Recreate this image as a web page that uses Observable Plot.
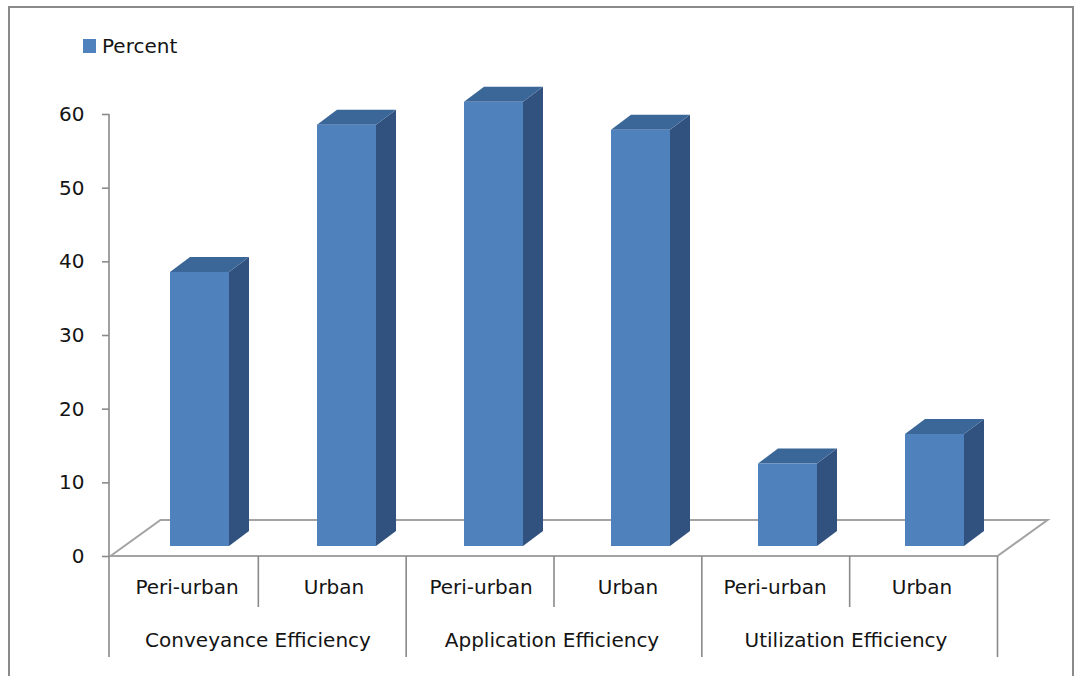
<!DOCTYPE html>
<html>
<head>
<meta charset="utf-8">
<script src="https://cdn.jsdelivr.net/npm/d3@7"></script>
<script src="https://cdn.jsdelivr.net/npm/@observablehq/plot@0.6"></script>
<style>
  html, body { margin: 0; padding: 0; background: #fff; }
  #wrap { position: relative; width: 1076px; height: 676px; overflow: hidden; font-family: "DejaVu Sans", sans-serif; }
  #frame { position: absolute; left: 8px; top: 6px; width: 1066px; height: 700px; border: 2px solid #8a8a8a; box-sizing: border-box; pointer-events: none; }
  #legend { position: absolute; left: 83px; top: 34px; display: flex; align-items: center; font-size: 20px; color: #141414; }
  #legend .swatch { width: 13px; height: 14px; background: #4f81bd; margin-right: 6px; }
  #chart svg { display: block; }
  g[aria-label="y-axis tick"] { stroke: #8a8a8a; stroke-width: 1.6; }
  g[aria-label="y-axis"] .tick line { stroke: #8a8a8a; stroke-width: 1.6; }
  g[aria-label="y-axis"] .domain { display: none; }
</style>
</head>
<body>
<div id="wrap">
  <div id="chart"></div>
  <div id="legend"><span class="swatch"></span><span>Percent</span></div>
  <div id="frame"></div>
</div>
<script>
// Efficiency groups, the two settings inside each, and the measured percentages
const groups = [
  "Conveyance Efficiency", "Conveyance Efficiency",
  "Application Efficiency", "Application Efficiency",
  "Utilization Efficiency", "Utilization Efficiency"
];
const settings = ["Peri-urban", "Urban", "Peri-urban", "Urban", "Peri-urban", "Urban"];
const percent = [37.2, 57.2, 60.3, 56.5, 11.2, 15.2];
const yTicks = [0, 10, 20, 30, 40, 50, 60];

const rows = groups.map((g, i) => ({
  key: `${g}|${settings[i]}`,
  group: g,
  setting: settings[i],
  percent: percent[i]
}));
const keys = rows.map(d => d.key);

// Pseudo-3D look: bars sit a little back on the floor and have depth
const BAR_SHIFT_X = 13, BAR_SHIFT_Y = -10;
const DEPTH_X = 20, DEPTH_Y = -15;
const FLOOR_X = 50, FLOOR_Y = -36;
const FRONT = "#4f81bd", TOP = "#3b6698", SIDE = "#31527f";
const LINE = "#a3a3a3";
const INK = "#141414";

// Floor parallelogram, value axis line and the two-level category box
function floorAndAxes(index, {x, y}) {
  const [x0, x1] = x.range();
  const base = y(0);
  const step = (x1 - x0) / keys.length;
  const g = d3.create("svg:g");
  g.append("path")
    .attr("d", `M${x0},${base}L${x0 + FLOOR_X},${base + FLOOR_Y}L${x1 + FLOOR_X},${base + FLOOR_Y}L${x1},${base}Z`)
    .attr("fill", "#fff").attr("stroke", LINE).attr("stroke-width", 2);
  // value axis line
  g.append("line")
    .attr("x1", x0 - 1.5).attr("x2", x0 - 1.5)
    .attr("y1", y(60)).attr("y2", base + 101)
    .attr("stroke", "#8a8a8a").attr("stroke-width", 1.6);
  // category separators: short between settings, long between groups
  for (let i = 1; i <= keys.length; ++i) {
    const xi = x0 + i * step;
    const long = i === keys.length || groups[i] !== groups[i - 1];
    g.append("line")
      .attr("x1", xi).attr("x2", xi)
      .attr("y1", base).attr("y2", base + (long ? 101 : 51))
      .attr("stroke", "#8a8a8a").attr("stroke-width", 1.6);
  }
  // group labels centred under their settings
  const uniq = Array.from(new Set(groups));
  for (const grp of uniq) {
    const members = rows.filter(d => d.group === grp);
    const cx = d3.mean(members, d => x(d.key) + x.bandwidth() / 2);
    g.append("text")
      .attr("x", cx - 2).attr("y", base + 85)
      .attr("text-anchor", "middle")
      .attr("dy", "0.32em")
      .attr("fill", INK)
      .text(grp);
  }
  return g.node();
}

// Top and side faces of each column
function barDepth(index, {x, y}) {
  const w = x.bandwidth();
  const g = d3.create("svg:g");
  for (const d of rows) {
    const l = x(d.key) + BAR_SHIFT_X, r = l + w;
    const t = y(d.percent) + BAR_SHIFT_Y, b = y(0) + BAR_SHIFT_Y;
    g.append("path")
      .attr("d", `M${r},${t}L${r + DEPTH_X},${t + DEPTH_Y}L${r + DEPTH_X},${b + DEPTH_Y}L${r},${b}Z`)
      .attr("fill", SIDE);
    g.append("path")
      .attr("d", `M${l},${t}L${l + DEPTH_X},${t + DEPTH_Y}L${r + DEPTH_X},${t + DEPTH_Y}L${r},${t}Z`)
      .attr("fill", TOP);
  }
  return g.node();
}

const chart = Plot.plot({
  width: 1076,
  height: 676,
  marginTop: 114,
  marginBottom: 120,
  marginLeft: 109,
  marginRight: 78,
  style: { fontFamily: "DejaVu Sans, sans-serif", fontSize: "20px", color: INK, background: "transparent" },
  x: { type: "band", domain: keys, range: [110.5, 997.5], paddingInner: 0.6, paddingOuter: 0.3, axis: null },
  y: { domain: [0, 60], ticks: yTicks, tickSize: 7, tickPadding: 18, label: null },
  marks: [
    floorAndAxes,
    barDepth,
    Plot.barY(rows, { x: "key", y: "percent", fill: FRONT, dx: BAR_SHIFT_X, dy: BAR_SHIFT_Y }),
    Plot.text(rows, { x: "key", text: "setting", frameAnchor: "bottom", dy: 37, fill: INK })
  ]
});
document.getElementById("chart").appendChild(chart);
</script>
</body>
</html>
